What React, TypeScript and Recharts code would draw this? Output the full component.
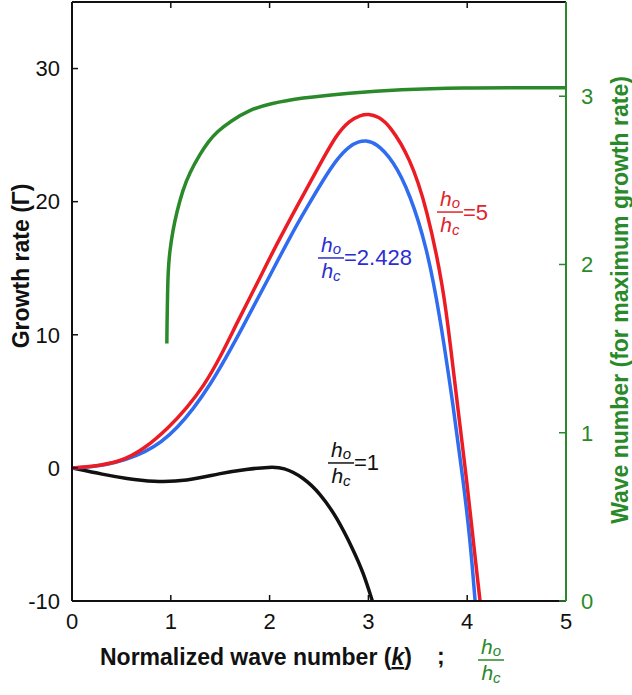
import React from "react";
import { LineChart, Line, XAxis, YAxis, ReferenceDot } from "recharts";

// x ticks shared by bottom (k) and top frame
const xTicks = [0, 1, 2, 3, 4, 5];
const growthTicks = [-10, 0, 10, 20, 30];
const waveTicks = [0, 1, 2, 3];

// h0/hc = 5
const redK = [0, 0.18, 0.49, 0.72, 0.99, 1.16, 1.33, 1.5, 1.67, 1.87, 2.07, 2.31, 2.48, 2.68, 2.81, 2.92, 3.0, 3.1, 3.22, 3.42, 3.59, 3.76, 3.83, 3.9, 4.0, 4.06, 4.13];
const redG = [0, 0.07, 0.45, 1.35, 3.1, 4.5, 6.1, 8.3, 10.9, 13.8, 16.8, 20.1, 22.4, 25.1, 26.1, 26.5, 26.6, 26.4, 25.7, 23.3, 19.6, 13.5, 9.2, 4.8, -1.2, -5.4, -10];

// h0/hc = 2.428
const blueK = [0, 0.32, 0.76, 1.06, 1.4, 1.73, 2.0, 2.21, 2.38, 2.54, 2.68, 2.81, 2.9, 2.97, 3.08, 3.25, 3.42, 3.59, 3.72, 3.86, 3.96, 4.03, 4.08];
const blueG = [0, 0.1, 1.1, 2.8, 6.1, 10.6, 14.4, 17.4, 19.6, 21.6, 23.2, 24.2, 24.5, 24.6, 24.4, 23.1, 20.6, 16.6, 11.6, 4.6, -1.0, -5.4, -10];

// h0/hc = 1
const blackK = [0, 0.32, 0.55, 0.82, 1.16, 1.5, 1.77, 2.0, 2.14, 2.34, 2.51, 2.68, 2.85, 2.95, 3.04];
const blackG = [0, -0.5, -0.8, -1.05, -1.0, -0.4, -0.1, 0.07, 0.05, -0.7, -1.9, -3.7, -6.2, -7.9, -10];

// wave number for max growth rate vs h0/hc (right axis)
const greenH = [0.96, 0.962, 0.965, 0.97, 0.978, 0.99, 1.02, 1.06, 1.12, 1.19, 1.3, 1.38, 1.47, 1.6, 1.8, 2.0, 2.31, 2.81, 3.3, 4.0, 4.5, 5.0];
const greenW = [1.53, 1.65, 1.75, 1.91, 2.0, 2.08, 2.2, 2.31, 2.44, 2.545, 2.66, 2.73, 2.79, 2.85, 2.92, 2.955, 2.99, 3.02, 3.04, 3.05, 3.05, 3.05];

const pts = (xs: number[], ys: number[]) => xs.map((x, i) => ({ k: x, v: ys[i] }));
const redData = pts(redK, redG);
const blueData = pts(blueK, blueG);
const blackData = pts(blackK, blackG);
const greenData = pts(greenH, greenW);

const FONT = "Arial, 'Liberation Sans', Helvetica, sans-serif";
const GREEN = "#2a8a2a";

const Frac = ({ x, y, color, suffix }: any) => (
  <g fill={color} fontFamily={FONT}>
    <text x={x + 13} y={y - 6} textAnchor="middle" fontStyle="italic" fontSize={21}>
      h<tspan fontSize={15} dy={2}>o</tspan>
    </text>
    <line x1={x} x2={x + 26} y1={y} y2={y} stroke={color} strokeWidth={1.5} />
    <text x={x + 13} y={y + 20} textAnchor="middle" fontStyle="italic" fontSize={21}>
      h<tspan fontSize={15} dy={3}>c</tspan>
    </text>
    {suffix && (
      <text x={x + 26} y={y} dominantBaseline="central" fontSize={22}>
        {suffix}
      </text>
    )}
  </g>
);

const fracLabel = (color: string, suffix: string) => (props: any) => {
  const vb = props.viewBox || {};
  return <Frac x={vb.x} y={vb.y} color={color} suffix={suffix} />;
};

const XTitle = (props: any) => {
  const { x, y } = props.viewBox;
  return (
    <g fontFamily={FONT}>
      <text x={x + 28} y={y + 64} fontSize={23} fontWeight="bold" fill="#111">
        Normalized wave number (
        <tspan fontStyle="italic" style={{ textDecoration: "underline" }}>k</tspan>)
      </text>
      <text x={x + 365} y={y + 63} fontSize={23} fontWeight="bold" fill="#111">;</text>
      <Frac x={x + 406} y={y + 59} color={GREEN} />
    </g>
  );
};

const LeftTitle = (props: any) => {
  const { x } = props.viewBox;
  const cx = x + 21;
  const cy = 266;
  return (
    <text x={cx} y={cy} transform={`rotate(-90 ${cx} ${cy})`} textAnchor="middle" dominantBaseline="central"
      fontFamily={FONT} fontSize={23} fontWeight="bold" fill="#111">
      Growth rate (Γ)
    </text>
  );
};

const RightTitle = (props: any) => {
  const { x } = props.viewBox;
  const cx = x + 54;
  const cy = 300;
  return (
    <text x={cx} y={cy} transform={`rotate(-90 ${cx} ${cy})`} textAnchor="middle" dominantBaseline="central"
      fontFamily={FONT} fontSize={23} fontWeight="bold" fill={GREEN}>
      Wave number (for maximum growth rate)
    </text>
  );
};

const App = () => {
  return (
    <div style={{ width: 632, height: 695 }}>
      <style>{`body{margin:0}`}</style>
      <LineChart width={632} height={695} margin={{ top: 0, right: 0, bottom: 0, left: 0 }}>
        <XAxis
          xAxisId="bottom"
          dataKey="k"
          type="number"
          domain={[0, 5]}
          ticks={xTicks}
          height={94}
          tickSize={-6}
          tickMargin={18}
          axisLine={{ stroke: "#111", strokeWidth: 2 }}
          tickLine={{ stroke: "#111", strokeWidth: 1.5 }}
          tick={{ fontSize: 22, fill: "#111", fontFamily: FONT }}
          allowDataOverflow
          label={{ content: XTitle }}
        />
        <XAxis
          xAxisId="top"
          orientation="top"
          dataKey="k"
          type="number"
          domain={[0, 5]}
          ticks={xTicks}
          height={2}
          tickSize={-6}
          axisLine={{ stroke: "#111", strokeWidth: 2 }}
          tickLine={{ stroke: "#111", strokeWidth: 1.5 }}
          tick={() => <g />}
          allowDataOverflow
        />
        <YAxis
          yAxisId="left"
          type="number"
          domain={[-10, 35]}
          ticks={growthTicks}
          width={72}
          tickSize={-6}
          tickMargin={18}
          axisLine={{ stroke: "#111", strokeWidth: 2 }}
          tickLine={{ stroke: "#111", strokeWidth: 1.5 }}
          tick={{ fontSize: 22, fill: "#111", fontFamily: FONT }}
          allowDataOverflow
          label={{ content: LeftTitle }}
        />
        <YAxis
          yAxisId="right"
          orientation="right"
          type="number"
          domain={[0, 3.56]}
          ticks={waveTicks}
          width={66}
          tickSize={-7}
          tickMargin={22}
          axisLine={{ stroke: GREEN, strokeWidth: 2 }}
          tickLine={{ stroke: GREEN, strokeWidth: 1.5 }}
          tick={{ fontSize: 22, fill: GREEN, fontFamily: FONT, textAnchor: "start" }}
          allowDataOverflow
          label={{ content: RightTitle }}
        />
        <Line data={greenData} dataKey="v" xAxisId="bottom" yAxisId="right" type="basis"
          stroke="#2a8a2a" strokeWidth={3.5} dot={false} isAnimationActive={false} />
        <Line data={blackData} dataKey="v" xAxisId="bottom" yAxisId="left" type="basis"
          stroke="#111" strokeWidth={3.5} dot={false} isAnimationActive={false} />
        <Line data={blueData} dataKey="v" xAxisId="bottom" yAxisId="left" type="basis"
          stroke="#2f6cf0" strokeWidth={3.5} dot={false} isAnimationActive={false} />
        <Line data={redData} dataKey="v" xAxisId="bottom" yAxisId="left" type="basis"
          stroke="#ec1c24" strokeWidth={3.5} dot={false} isAnimationActive={false} />
        <ReferenceDot xAxisId="bottom" yAxisId="left" x={3.694} y={19.22} r={0} fill="none" stroke="none"
          ifOverflow="visible" label={{ content: fracLabel("#e0252b", "=5") }} />
        <ReferenceDot xAxisId="bottom" yAxisId="left" x={2.49} y={15.77} r={0} fill="none" stroke="none"
          ifOverflow="visible" label={{ content: fracLabel("#2b2fd0", "=2.428") }} />
        <ReferenceDot xAxisId="bottom" yAxisId="left" x={2.591} y={0.37} r={0} fill="none" stroke="none"
          ifOverflow="visible" label={{ content: fracLabel("#111", "=1") }} />
      </LineChart>
    </div>
  );
};

export default App;
